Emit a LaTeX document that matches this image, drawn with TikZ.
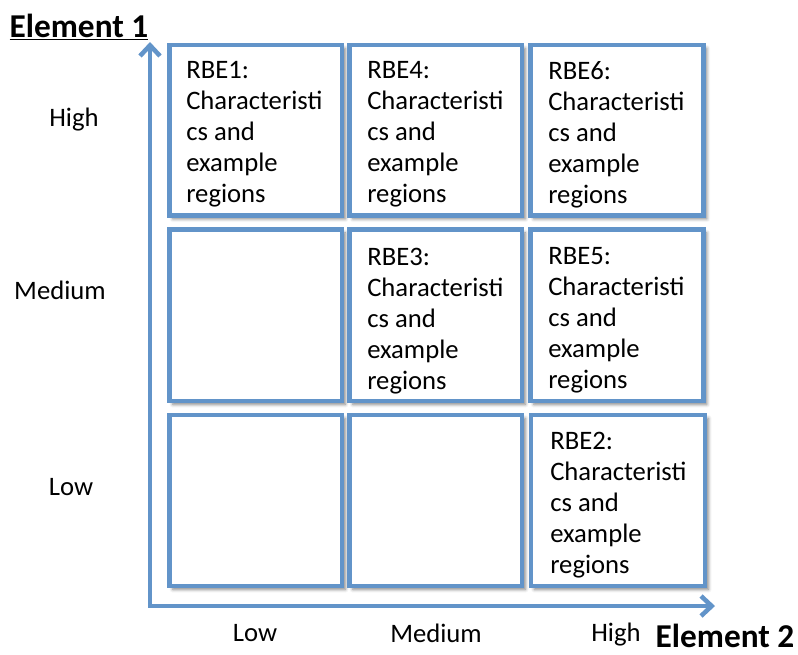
\documentclass[tikz,border=0pt]{standalone}
\usepackage{fontspec}
\setmainfont{Carlito}
\usetikzlibrary{arrows.meta,shadows.blur}

\definecolor{gridblue}{RGB}{98,148,201}

\tikzset{
  cell/.style={draw=gridblue, line width=3.4pt, fill=white,
    blur shadow={shadow xshift=2.5pt, shadow yshift=-2.5pt, shadow blur radius=2.5pt, shadow opacity=50}},
  axis/.style={draw=gridblue, line width=3.4pt,
    {Straight Barb[length=8pt,width=15pt]}-{Straight Barb[length=8pt,width=15pt]}},
  celltext/.style={anchor=north west, inner sep=0pt, align=left,
    font=\fontsize{20}{23.25}\selectfont},
  axislabel/.style={inner sep=0pt, font=\fontsize{20}{24}\selectfont},
  axistitle/.style={inner sep=0pt, font=\fontsize{25}{30}\selectfont\bfseries},
}

\begin{document}
\begin{tikzpicture}[x=0.75pt,y=0.75pt,yscale=-1,xscale=1]
\useasboundingbox (0,0) rectangle (798,654);

%Axes
\coordinate (origin) at (150,606);
\coordinate (ytip) at (150,42);
\coordinate (xtip) at (715,606);
\draw [axis] (ytip) -- (origin) -- (xtip);

%Row: High
\draw [cell] (169.5,45) rectangle (342,215.5);
\draw [cell] (349.5,45) rectangle (522,215.5);
\draw [cell] (530.5,45) rectangle (703.5,215.5);
%Row: Medium
\draw [cell] (169.5,229.5) rectangle (342,401);
\draw [cell] (349.5,229.5) rectangle (522,401);
\draw [cell] (530.5,229.5) rectangle (703.5,401);
%Row: Low
\draw [cell] (169.5,415) rectangle (342,586);
\draw [cell] (349.5,415) rectangle (522,586);
\draw [cell] (531,415) rectangle (705,586);

% Text Node
\node [celltext] (rbe1) at (186,61.5) {RBE1:\\Characteristi\\cs and\\example\\regions};
% Text Node
\node [celltext] (rbe4) at (367,61.5) {RBE4:\\Characteristi\\cs and\\example\\regions};
% Text Node
\node [celltext] (rbe6) at (548,61.5) {RBE6:\\Characteristi\\cs and\\example\\regions};
% Text Node
\node [celltext] (rbe3) at (367,247.5) {RBE3:\\Characteristi\\cs and\\example\\regions};
% Text Node
\node [celltext] (rbe5) at (548,247.5) {RBE5:\\Characteristi\\cs and\\example\\regions};
% Text Node
\node [celltext] (rbe2) at (550,432) {RBE2:\\Characteristi\\cs and\\example\\regions};

% Text Node
\node [axislabel] (yhigh) at (74,120) {High};
% Text Node
\node [axislabel] (ymedium) at (60,290) {Medium};
% Text Node
\node [axislabel] (ylow) at (71,487) {Low};
% Text Node
\node [axislabel] (xlow) at (255,633) {Low};
% Text Node
\node [axislabel] (xmedium) at (436,633) {Medium};
% Text Node
\node [axislabel] (xhigh) at (616,635) {High};

% Text Node
\node [axistitle] (elemone) at (79,27) {\underline{Element 1}};
% Text Node
\node [axistitle] (elemtwo) at (725,636) {Element 2};

\end{tikzpicture}
\end{document}
